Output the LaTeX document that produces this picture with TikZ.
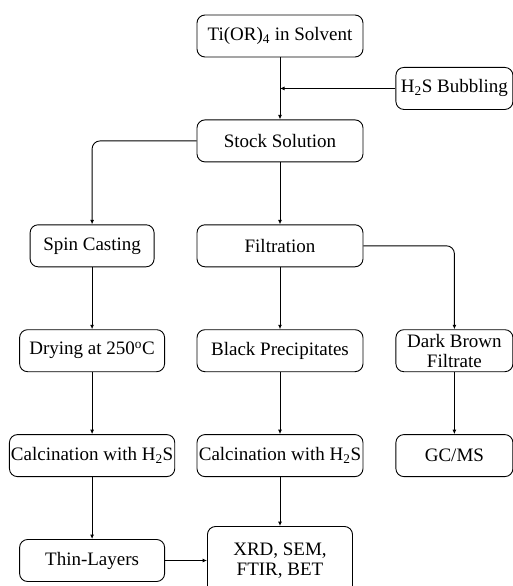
\documentclass[tikz,border=0pt]{standalone}
\usepackage{fontspec}
\setmainfont{Liberation Serif}
\usetikzlibrary{arrows.meta,positioning,calc}
\tikzset{
  stepbox/.style={draw=black,rounded corners=8pt,line width=0.9pt,align=center,
    minimum height=42pt,inner sep=1.5pt,font=\fontsize{19pt}{20pt}\selectfont},
  leftbox/.style={stepbox,minimum width=#1},
  mainbox/.style={stepbox,minimum width=166pt},
  sidebox/.style={stepbox,minimum width=117pt},
  arrow/.style={-{Latex[length=4.5pt,width=4pt]},line width=0.9pt,draw=black},
  bendarrow/.style={arrow,rounded corners=8pt}
}
\begin{document}
\begin{tikzpicture}[x=1pt,y=1pt,node distance=62pt and 42pt]
  \useasboundingbox (0,0) rectangle (513,-586);
  \node[mainbox] (ti) at (280,-36) {Ti(OR)\textsubscript{4} in Solvent};
  \node[mainbox,below=of ti] (stock) {Stock Solution};
  \node[mainbox,below=of stock] (filt) {Filtration};
  \node[mainbox,below=of filt] (black) {Black Precipitates};
  \node[mainbox,below=of black] (calcB) {Calcination with H\textsubscript{2}S};
  \node[leftbox=124pt,left=42pt of filt] (spin) {Spin Casting};
  \node[leftbox=145pt,below=of spin] (dry) {Drying at 250\textsuperscript{o}C};
  \node[leftbox=165pt,below=of dry] (calcA) {Calcination with H\textsubscript{2}S};
  \node[leftbox=145pt,below=of calcA] (thin) {Thin-Layers};
  \node[stepbox,minimum width=145pt,minimum height=68pt,right=42pt of thin] (xrd) {XRD, SEM,\\FTIR, BET};
  \node[sidebox,right=32pt of black] (dark) {Dark Brown\\Filtrate};
  \node[sidebox,below=of dark] (gcms) {GC/MS};
  \coordinate (join) at ($(ti.south)!0.5!(stock.north)$);
  \node[sidebox] (h2s) at (join -| dark) {H\textsubscript{2}S Bubbling};
  % main column
  \draw[arrow] (ti) -- (stock);
  \draw[arrow] (h2s) -- (join);
  \draw[arrow] (stock) -- (filt);
  \draw[arrow] (filt) -- (black);
  \draw[arrow] (black) -- (calcB);
  \draw[arrow] (calcB) -- (xrd);
  % thin-layer branch
  \draw[bendarrow] (stock.west) -| (spin.north);
  \draw[arrow] (spin) -- (dry);
  \draw[arrow] (dry) -- (calcA);
  \draw[arrow] (calcA) -- (thin);
  \draw[arrow] (thin) -- (xrd);
  % filtrate branch
  \draw[bendarrow] (filt.east) -| (dark.north);
  \draw[arrow] (dark) -- (gcms);
\end{tikzpicture}
\end{document}
